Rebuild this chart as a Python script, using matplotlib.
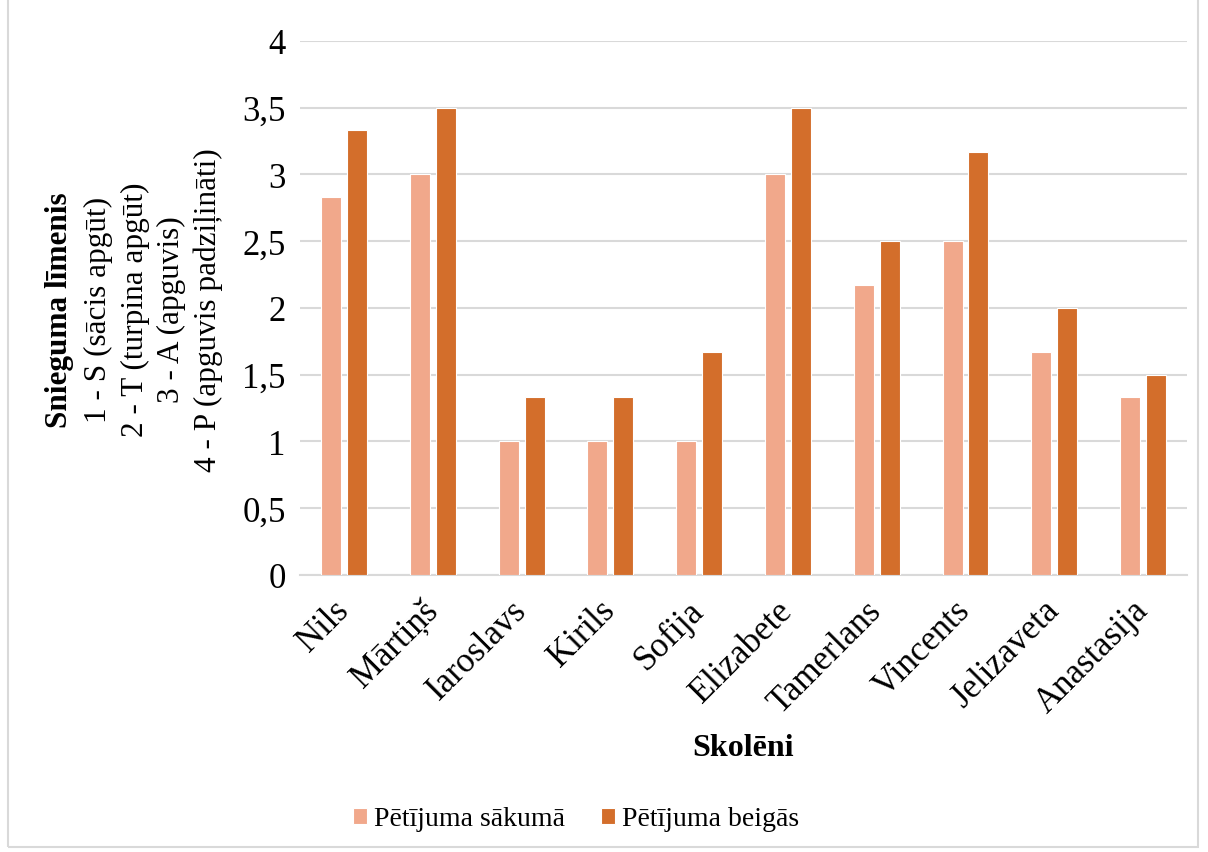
import matplotlib.pyplot as plt
import numpy as np
from matplotlib.patches import Rectangle
from matplotlib.ticker import FuncFormatter

# skolēnu snieguma līmenis pētījuma sākumā un beigās
students = ["Nils", "Mārtiņš", "Iaroslavs", "Kirils", "Sofija",
            "Elizabete", "Tamerlans", "Vincents", "Jelizaveta", "Anastasija"]
start_vals = [2.83, 3.0, 1.0, 1.0, 1.0, 3.0, 2.17, 2.5, 1.67, 1.33]
end_vals = [3.33, 3.5, 1.33, 1.33, 1.67, 3.5, 2.5, 3.17, 2.0, 1.5]
series_names = ["Pētījuma sākumā", "Pētījuma beigās"]
ylabel_lines = ["Snieguma līmenis", "1 - S (sācis apgūt)", "2 - T (turpina apgūt)",
                "3 - A (apguvis)", "4 - P (apguvis padziļināti)"]

plt.rcParams['font.family'] = ['Liberation Serif', 'DejaVu Serif']

fig = plt.figure(figsize=(12.08, 8.53), dpi=100)
ax = fig.add_axes([0.248, 0.325, 0.735, 0.626])

x = np.arange(len(students))
w = 0.225
off = 0.146
ax.bar(x - off, start_vals, w, color="#F1A88B", edgecolor="white", linewidth=0.8,
       label=series_names[0], zorder=3)
ax.bar(x + off, end_vals, w, color="#D36E2B", edgecolor="white", linewidth=0.8,
       label=series_names[1], zorder=3)

ax.set_xlim(-0.5, len(students) - 0.5)
ax.set_ylim(0, 4)
ax.set_yticks(np.arange(0, 4.01, 0.5))
ax.yaxis.set_major_formatter(FuncFormatter(lambda v, p: f"{v:g}".replace(".", ",")))
ax.grid(axis="y", color="#D9D9D9", linewidth=1.5, zorder=0)
for s in ["top", "right", "left"]:
    ax.spines[s].set_visible(False)
ax.spines["bottom"].set_color("#D9D9D9")
ax.spines["bottom"].set_linewidth(1.5)
ax.tick_params(axis="both", length=0, labelsize=25)
ax.tick_params(axis="y", pad=10)
ax.set_xticks(x)
ax.set_xticklabels(students, rotation=45, ha="right", va="center",
                   rotation_mode="anchor")
ax.tick_params(axis="x", pad=22)

ax.set_xlabel("Skolēni", fontsize=23, fontweight="bold", labelpad=10)

# y ass nosaukums vairākās rindās
xs = [60, 98, 135, 171, 208]
for i, (line, xp) in enumerate(zip(ylabel_lines, xs)):
    fig.text(xp / 1208, 1 - 310 / 853, line, rotation=90, ha="center", va="center",
             fontsize=22.5, fontweight="bold" if i == 0 else "normal")

fig.legend(loc="center", bbox_to_anchor=(0.477, 1 - 820 / 853), ncol=2,
           frameon=False, prop={"family": "Liberation Serif", "size": 20},
           handlelength=0.5, handleheight=0.5,
           columnspacing=1.3, handletextpad=0.25)

fig.patches.append(Rectangle((8 / 1208, 5 / 853), 1190 / 1208, 1.0,
                             transform=fig.transFigure, fill=False,
                             edgecolor="#D9D9D9", linewidth=1.5))

fig.savefig("out.png", dpi=100)
